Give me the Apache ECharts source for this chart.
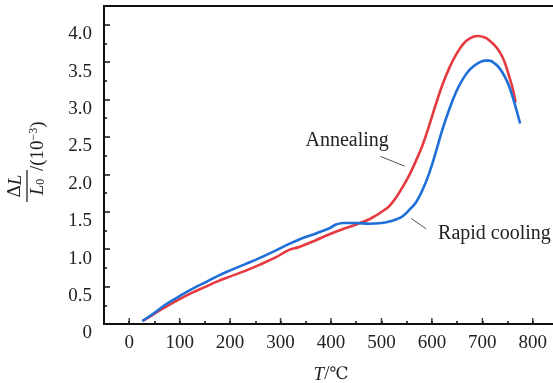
<!DOCTYPE html>
<html>
<head>
<meta charset="utf-8">
<script src="https://cdn.jsdelivr.net/npm/echarts@6/dist/echarts.min.js"></script>
<style>html,body{margin:0;padding:0;background:#fff;}#c{width:553px;height:383px;}</style>
</head>
<body>
<div id="c"></div>
<script>
// ---- data ----
var annealing = [
  [26,0.04],[46,0.12],[70,0.22],[99,0.33],[125,0.42],[152,0.50],[175,0.57],[198,0.63],
  [230,0.71],[258,0.79],[290,0.89],[317,0.99],[337,1.03],[370,1.12],[397,1.20],[420,1.26],
  [450,1.33],[476,1.40],[489,1.45],[505,1.52],[516,1.58],[530,1.70],[542,1.83],[556,2.00],
  [569,2.19],[582,2.40],[595,2.66],[608,2.94],[620,3.18],[635,3.43],[648,3.60],[662,3.74],
  [676,3.82],[691,3.85],[705,3.83],[714,3.79],[725,3.72],[734,3.64],[743,3.52],[751,3.36],
  [760,3.15],[766,2.96]
];
var rapidCooling = [
  [26,0.04],[46,0.13],[70,0.25],[99,0.37],[125,0.47],[152,0.56],[175,0.64],[198,0.71],
  [230,0.80],[258,0.88],[290,0.98],[317,1.07],[337,1.13],[370,1.21],[397,1.28],[410,1.33],
  [425,1.35],[450,1.35],[476,1.34],[500,1.35],[516,1.37],[530,1.40],[542,1.44],[556,1.53],
  [569,1.63],[582,1.80],[595,2.02],[608,2.30],[620,2.58],[635,2.88],[648,3.10],[661,3.27],
  [675,3.40],[690,3.48],[705,3.52],[714,3.52],[725,3.48],[734,3.42],[745,3.30],[754,3.16],
  [766,2.90],[775,2.68]
];
var xMajorTicks = [0,100,200,300,400,500,600,700,800];
var annTexts = ['Annealing','Rapid cooling'];
var annPos = [[432,2.45],[724,1.21]];
var annLeaders = [[[498,2.24],[546,2.11]],[[559,1.41],[589,1.27]]];

var FONT = 'Liberation Serif';
var RED = '#e53a40', BLUE = '#1f6fd8';

var chart = echarts.init(document.getElementById('c'), null, {renderer:'canvas'});

chart.setOption({
  animation:false,
  backgroundColor:'#fff',
  grid:{left:104, top:6, right:-5, bottom:59, show:true, borderColor:'#111', borderWidth:2,
        backgroundColor:'transparent', outerBoundsMode:'none', containLabel:false},
  xAxis:{
    type:'value', min:-50, max:850, interval:50, position:'bottom', splitLine:{show:false},
    axisLine:{show:true, onZero:false, lineStyle:{color:'#111', width:2}},
    axisTick:{show:true, inside:true, length:3, lineStyle:{color:'#111', width:1.5}},
    axisLabel:{show:true, margin:10, color:'#222', fontFamily:FONT, fontSize:19, showMinLabel:false, showMaxLabel:false,
      formatter:function(v){ return (Math.abs(v % 100) < 1e-6 && v >= 0 && v <= 800) ? String(v) : ''; }},
    name:'{i|T}/{c|℃}', nameLocation:'middle', nameGap:41,
    nameTextStyle:{color:'#222', fontFamily:FONT, fontSize:19,
      rich:{i:{fontStyle:'italic', fontFamily:FONT, fontSize:19, color:'#222'},
            c:{fontFamily:'DejaVu Serif', fontSize:17, color:'#222'}}}
  },
  yAxis:{
    type:'value', min:0, max:4.25, interval:0.5, position:'left', splitLine:{show:false},
    axisLine:{show:true, onZero:false, lineStyle:{color:'#111', width:2}},
    axisTick:{show:true, inside:true, length:6, lineStyle:{color:'#111', width:1.5}},
    minorTick:{show:true, splitNumber:2, length:3, lineStyle:{color:'#111', width:1.5}},
    axisLabel:{show:true, margin:12, verticalAlign:'top', color:'#222', fontFamily:FONT, fontSize:19, showMaxLabel:false,
      formatter:function(v){ if (v > 4.01) return ''; return v===0?'0':v.toFixed(1);}}
  },
  series:[
    {name:'Annealing', type:'line', data:annealing, smooth:0.4, showSymbol:false,
      lineStyle:{color:RED, width:2.6}, z:3},
    {name:'Rapid cooling', type:'line', data:rapidCooling, smooth:0.4, showSymbol:false,
      lineStyle:{color:BLUE, width:2.6}, z:4},
    {name:'majorTicks', type:'scatter', data:xMajorTicks.map(function(v){return [v,0];}),
      symbol:'rect', symbolSize:[1.5,6], symbolOffset:[0,-3], clip:false, silent:true,
      itemStyle:{color:'#111'}, z:5}
  ]
});

function px(p){ return chart.convertToPixel({xAxisIndex:0, yAxisIndex:0}, p); }
var graphics = [];
annTexts.forEach(function(t, i){
  var p = px(annPos[i]);
  graphics.push({type:'text', x:p[0], y:p[1], style:{text:t, align:'center', verticalAlign:'middle', fill:'#222', font:'20px "Liberation Serif"'}});
  var a = px(annLeaders[i][0]), b = px(annLeaders[i][1]);
  graphics.push({type:'line', shape:{x1:a[0], y1:a[1], x2:b[0], y2:b[1]}, style:{stroke:'#555', lineWidth:1}});
});
// rotated y-axis title: ΔL / L0 /(10^-3)
graphics.push({
  type:'group', x:27, y:158, rotation:Math.PI/2,
  children:[
    {type:'text', x:-28, y:-2, style:{text:'{u|Δ}{i|L}', align:'center', verticalAlign:'bottom', fill:'#222',
      rich:{u:{fontFamily:FONT, fontSize:19, fill:'#222'}, i:{fontFamily:FONT, fontSize:19, fontStyle:'italic', fill:'#222'}}}},
    {type:'line', shape:{x1:-44, y1:0, x2:-12, y2:0}, style:{stroke:'#222', lineWidth:1.3}},
    {type:'text', x:-29, y:1, style:{text:'{i|L}{s|0}', align:'center', verticalAlign:'top', fill:'#222',
      rich:{i:{fontFamily:FONT, fontSize:19, fontStyle:'italic', fill:'#222', lineHeight:20},
            s:{fontFamily:FONT, fontSize:12, fill:'#222', padding:[6,0,0,0], lineHeight:20}}}},
    {type:'text', x:-13, y:1, style:{text:'{n|/(10}{p|−3}{n|)}', align:'left', verticalAlign:'top', fill:'#222',
      rich:{n:{fontFamily:FONT, fontSize:19, fill:'#222', lineHeight:20},
            p:{fontFamily:FONT, fontSize:12, fill:'#222', padding:[0,0,9,0], lineHeight:20}}}}
  ]
});
chart.setOption({graphic:graphics});
</script>
</body>
</html>
